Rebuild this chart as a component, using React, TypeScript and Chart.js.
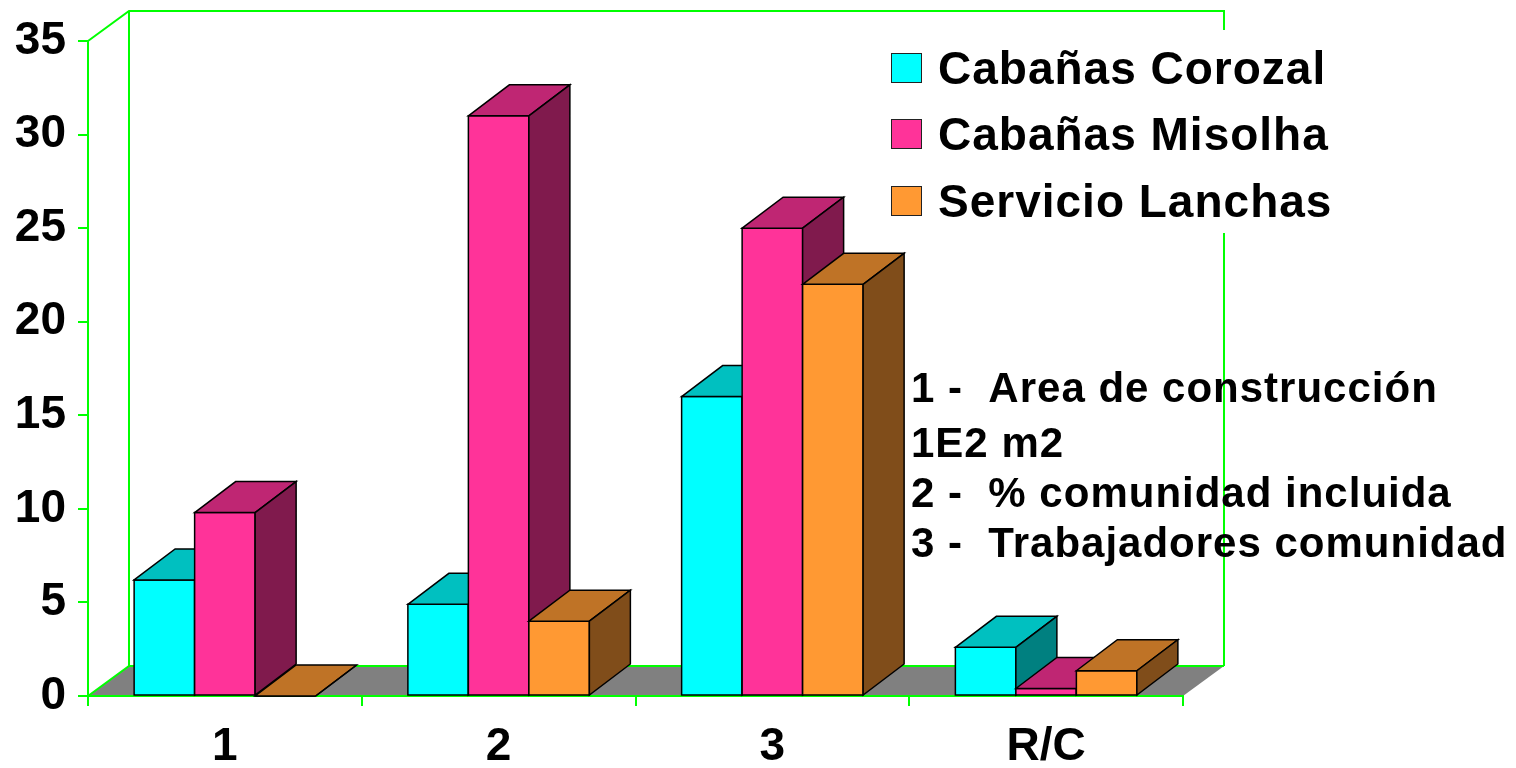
import React, { useEffect, useRef } from 'react';
import { Chart, registerables } from 'chart.js';

Chart.register(...registerables);

// ---- data ----
const categories = ['1', '2', '3', 'R/C'];
const seriesNames = ['Cabañas Corozal', 'Cabañas Misolha', 'Servicio Lanchas'];
const corozal = [6.2, 4.9, 16.0, 2.6];
const misolha = [9.8, 31.0, 25.0, 0.4];
const lanchas = [0, 4.0, 22.0, 1.35];
const yMin = 0;
const yMax = 35;
const yStep = 5;
const notes = [
  '1 -  Area de construcción',
  '1E2 m2',
  '2 -  % comunidad incluida',
  '3 -  Trabajadores comunidad',
];

// ---- styles ----
const FONT = '"Liberation Sans", Arial, Helvetica, sans-serif';
const GREEN = '#00FF00';
const frontColors = ['#00FFFF', '#FF3399', '#FF9933'];
const topColors = ['#00C0C0', '#BF2673', '#BF7326'];
const sideColors = ['#008080', '#801A4D', '#804D1A'];
const DX = 41;
const WALL_DY = -30;
const BAR_DY = -31;

const threeD = {
  id: 'threeD',
  beforeDraw(chart: any) {
    const { ctx } = chart;
    const { left, right, top, bottom } = chart.chartArea;
    ctx.save();
    ctx.fillStyle = '#808080';
    ctx.beginPath();
    ctx.moveTo(left, bottom);
    ctx.lineTo(left + DX, bottom + WALL_DY);
    ctx.lineTo(right + DX, bottom + WALL_DY);
    ctx.lineTo(right, bottom);
    ctx.closePath();
    ctx.fill();

    ctx.strokeStyle = GREEN;
    ctx.lineWidth = 2;
    ctx.beginPath();
    ctx.moveTo(left, bottom);
    ctx.lineTo(left + DX, bottom + WALL_DY);
    ctx.lineTo(right + DX, bottom + WALL_DY);
    ctx.moveTo(left, top);
    ctx.lineTo(left + DX, top + WALL_DY);
    ctx.lineTo(right + DX, top + WALL_DY);
    ctx.lineTo(right + DX, bottom + WALL_DY);
    ctx.moveTo(left + DX, top + WALL_DY);
    ctx.lineTo(left + DX, bottom + WALL_DY);
    ctx.stroke();
    ctx.restore();
  },
  beforeDatasetDraw() {
    return false;
  },
  afterDatasetsDraw(chart: any) {
    const { ctx } = chart;
    const n = chart.data.labels.length;
    const metas = chart.data.datasets.map((_: any, i: number) => chart.getDatasetMeta(i));
    ctx.save();
    ctx.strokeStyle = '#000000';
    ctx.lineWidth = 1.5;
    ctx.lineJoin = 'miter';
    const poly = (pts: number[][], fill: string) => {
      ctx.beginPath();
      ctx.moveTo(pts[0][0], pts[0][1]);
      for (let k = 1; k < pts.length; k++) ctx.lineTo(pts[k][0], pts[k][1]);
      ctx.closePath();
      ctx.fillStyle = fill;
      ctx.fill();
      ctx.stroke();
    };
    for (let j = 0; j < n; j++) {
      for (let i = 0; i < metas.length; i++) {
        const el = metas[i].data[j];
        if (!el) continue;
        const { x, y, base, width } = el.getProps(['x', 'y', 'base', 'width'], true);
        const l = x - width / 2;
        const r = x + width / 2;
        poly([[l, y], [r, y], [r, base], [l, base]], frontColors[i]);
        poly([[l, y], [l + DX, y + BAR_DY], [r + DX, y + BAR_DY], [r, y]], topColors[i]);
        poly([[r, y], [r + DX, y + BAR_DY], [r + DX, base + BAR_DY], [r, base]], sideColors[i]);
      }
    }
    ctx.restore();
  },
  afterDraw(chart: any) {
    const { ctx } = chart;
    ctx.save();
    // legend
    ctx.fillStyle = '#FFFFFF';
    ctx.fillRect(878, 30, 467, 203);
    const rowY = [84, 150, 217];
    ctx.font = `bold 46px ${FONT}`;
    (ctx as any).letterSpacing = '1px';
    ctx.textAlign = 'left';
    ctx.textBaseline = 'alphabetic';
    chart.data.datasets.forEach((ds: any, i: number) => {
      const by = rowY[i] - 31;
      ctx.fillStyle = frontColors[i];
      ctx.fillRect(891, by, 31, 30);
      ctx.strokeStyle = '#222222';
      ctx.lineWidth = 1;
      ctx.strokeRect(891.5, by + 0.5, 30, 29);
      ctx.fillStyle = '#000000';
      ctx.fillText(ds.label, 938, rowY[i]);
    });
    // notes
    const noteY = [402, 457, 507, 557];
    ctx.font = `bold 42px ${FONT}`;
    (ctx as any).letterSpacing = '1px';
    ctx.fillStyle = '#000000';
    notes.forEach((t, k) => ctx.fillText(t, 911, noteY[k]));
    ctx.restore();
  },
};

export default function App() {
  const ref = useRef<HTMLCanvasElement | null>(null);
  useEffect(() => {
    if (!ref.current) return;
    const tickFont = { family: FONT, size: 46, weight: 'bold' as const };
    const chart = new Chart(ref.current, {
      type: 'bar',
      data: {
        labels: categories,
        datasets: [
          { label: seriesNames[0], data: corozal, backgroundColor: frontColors[0] },
          { label: seriesNames[1], data: misolha, backgroundColor: frontColors[1] },
          { label: seriesNames[2], data: lanchas, backgroundColor: frontColors[2] },
        ],
      },
      options: {
        responsive: false,
        animation: false,
        layout: { padding: { left: 0, top: 41, right: 333, bottom: 0 } },
        datasets: { bar: { categoryPercentage: 0.663, barPercentage: 1 } },
        plugins: { legend: { display: false }, tooltip: { enabled: false } },
        scales: {
          x: {
            z: 1,
            grid: { drawOnChartArea: false, color: GREEN, lineWidth: 2, tickLength: 10, offset: true },
            border: { color: GREEN, width: 2 },
            ticks: { color: '#000000', font: tickFont, padding: 14, maxRotation: 0, autoSkip: false },
            afterFit: (s: any) => {
              s.height = 72;
            },
          },
          y: {
            min: yMin,
            max: yMax,
            grid: { drawOnChartArea: false, color: GREEN, lineWidth: 2, tickLength: 10 },
            border: { color: GREEN, width: 2 },
            ticks: { stepSize: yStep, color: '#000000', font: tickFont, padding: 12 },
            afterFit: (s: any) => {
              s.width = 88;
            },
          },
        },
      },
      plugins: [threeD],
    } as any);
    return () => chart.destroy();
  }, []);
  return (
    <canvas
      ref={ref}
      width={1516}
      height={768}
      style={{ position: 'absolute', left: 0, top: 0, display: 'block' }}
    />
  );
}
